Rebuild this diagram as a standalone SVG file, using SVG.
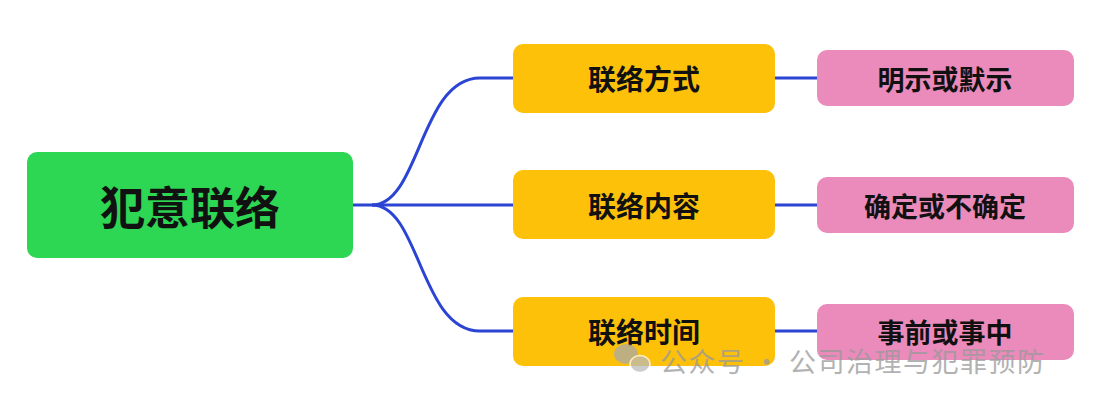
<svg xmlns="http://www.w3.org/2000/svg" width="1106" height="405" viewBox="0 0 1106 405">
<style>
.c{fill:none;stroke:#2b44d4;stroke-width:3}
.t{font-family:"Noto Sans CJK SC",sans-serif;font-weight:bold;fill:#111;text-anchor:middle;dominant-baseline:central}
.o{fill:#fdc10a}
.p{fill:#ea8bbb}
</style>
<rect width="1106" height="405" fill="#fff"/>
<g id="connectors">
<path class="c" d="M353,205 H372 C420,205 420,78 480,78 H513"/>
<path class="c" d="M372,205 H513"/>
<path class="c" d="M372,205 C420,205 420,331 480,331 H513"/>
<path class="c" d="M775,78 H817 M775,205 H817 M775,331 H817"/>
</g>
<g id="root"><rect x="27" y="152" width="326" height="106" rx="10" fill="#2dd653"/><text class="t" x="190" y="205" font-size="45">犯意联络</text></g>
<g id="n1"><rect class="o" x="513" y="44" width="262" height="69" rx="10"/><text class="t" x="644" y="78" font-size="28">联络方式</text></g>
<g id="n2"><rect class="o" x="513" y="170" width="262" height="69" rx="10"/><text class="t" x="644" y="205" font-size="28">联络内容</text></g>
<g id="n3"><rect class="o" x="513" y="297" width="262" height="69" rx="10"/><text class="t" x="644" y="331" font-size="28">联络时间</text></g>
<g id="p1"><rect class="p" x="817" y="50" width="257" height="56" rx="10"/><text class="t" x="945" y="78" font-size="27">明示或默示</text></g>
<g id="p2"><rect class="p" x="817" y="177" width="257" height="56" rx="10"/><text class="t" x="945" y="205" font-size="27">确定或不确定</text></g>
<g id="p3"><rect class="p" x="817" y="304" width="257" height="56" rx="10"/><text class="t" x="945" y="331" font-size="27">事前或事中</text></g>
<g id="watermark" opacity="0.75">
<ellipse cx="626" cy="354" rx="12" ry="10" fill="#aaa"/>
<ellipse cx="640" cy="364" rx="10" ry="8.5" fill="#bbb" stroke="#fff" stroke-width="1.5"/>
<text x="660" y="360" font-family="Noto Sans CJK SC,sans-serif" font-size="27" letter-spacing="1.5" fill="#999" dominant-baseline="central">公众号 · 公司治理与犯罪预防</text>
</g>
</svg>
